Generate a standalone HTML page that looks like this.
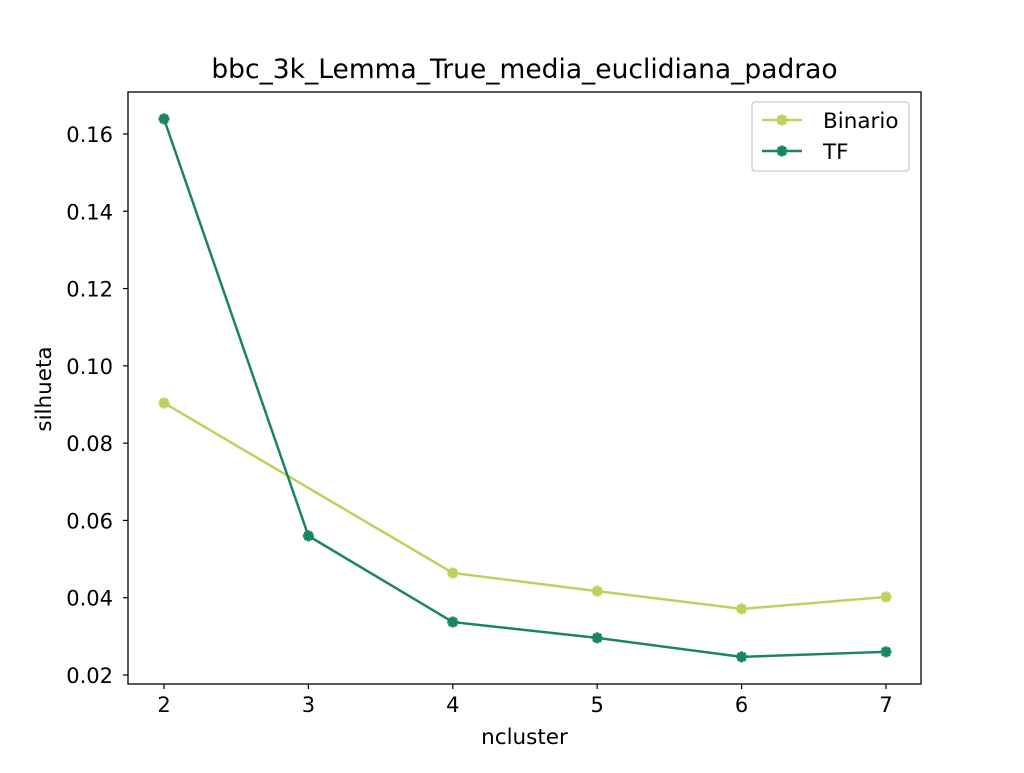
<!DOCTYPE html>
<html><head><meta charset="utf-8"><style>
body{margin:0;background:#fff;}
text{font-family:"DejaVu Sans","Liberation Sans",sans-serif;}
</style></head><body>
<svg id="chart" width="1024" height="768" xmlns="http://www.w3.org/2000/svg">
<rect width="1024" height="768" fill="#fff"/>
<text x="524.5" y="78" font-size="26.5" text-anchor="middle">bbc_3k_Lemma_True_media_euclidiana_padrao</text>
<g id="ticks"></g>
<g id="series"></g>
<rect x="128" y="92" width="793" height="592" fill="none" stroke="#000" stroke-width="1.3"/>
<text x="524.5" y="744" font-size="21.5" text-anchor="middle">ncluster</text>
<text x="51" y="389" font-size="21.5" text-anchor="middle" transform="rotate(-90 51 389)">silhueta</text>
<g>
<rect x="752" y="102" width="157" height="69" rx="3" fill="#fff" stroke="#ccc" stroke-width="1.3"/>
<g id="legend-items"></g>
</g>
</svg>
<script>
const categories=[2,3,4,5,6,7];
const binario=[0.0904,null,0.0464,0.0417,0.0371,0.0402];
const tf=[0.1639,0.0560,0.0337,0.0296,0.0247,0.0260];
const yTicks=[0.02,0.04,0.06,0.08,0.10,0.12,0.14,0.16];
const yTickLabels=["0.02","0.04","0.06","0.08","0.10","0.12","0.14","0.16"];
const seriesNames=["Binario","TF"];
const NS="http://www.w3.org/2000/svg";
function x(v){return 164+(v-2)*144.4;}
function y(v){return 675-(v-0.02)/0.02*77.29;}
function mk(t,a,p){const e=document.createElementNS(NS,t);for(const k in a)e.setAttribute(k,a[k]);p.appendChild(e);return e;}
const tk=document.getElementById('ticks');
categories.forEach(c=>{
 const l=mk('line',{x1:x(c),x2:x(c),y1:684,y2:689,stroke:'#000','stroke-width':1.2},tk);
 
 
 const t=mk('text',{x:x(c),y:712,'font-size':21,'text-anchor':'middle'},tk);t.textContent=c;
 
 
});
yTicks.forEach((v,i)=>{
 const l=mk('line',{x1:123,x2:128,y1:y(v),y2:y(v),stroke:'#000','stroke-width':1.2},tk);
 
 
 const t=mk('text',{x:113,y:y(v)+8,'font-size':21,'text-anchor':'end'},tk);t.textContent=yTickLabels[i];
 
 
});
function marker(cx,cy,col,p){
 const s=1.6,r=5.5;
 const pts=[[-s,-r],[s,-r],[s,-s],[r,-s],[r,s],[s,s],[s,r],[-s,r],[-s,s],[-r,s],[-r,-s],[-s,-s]].map(q=>(cx+q[0])+','+(cy+q[1])).join(' ');
 const m=mk('polygon',{points:pts,fill:col},p);
 
 
 const m2=mk('polygon',{points:pts,fill:col,transform:'rotate(45 '+cx+' '+cy+')'},p);
 
 
}
const sg=document.getElementById('series');
const cols=['#c3cf5c','#1a8564'];
[binario,tf].forEach((d,si)=>{
 const g=mk('g',{},sg);
 
 
 const idx=d.map((v,i)=>i).filter(i=>d[i]!==null);
 const pl=mk('polyline',{points:idx.map(i=>x(categories[i])+','+y(d[i])).join(' '),fill:'none',stroke:cols[si],'stroke-width':2.5},g);
 
 
 idx.forEach(i=>marker(x(categories[i]),y(d[i]),cols[si],g));
});
const lg=document.getElementById('legend-items');
seriesNames.forEach((n,i)=>{
 const yy=120+i*31;
 const g=mk('g',{},lg);
 
 
 mk('line',{x1:762,x2:802,y1:yy,y2:yy,stroke:cols[i],'stroke-width':2.5},g);
 marker(782,yy,cols[i],g);
 const t=mk('text',{x:823,y:yy+8,'font-size':21.5},g);t.textContent=n;
});
</script>
</body></html>
